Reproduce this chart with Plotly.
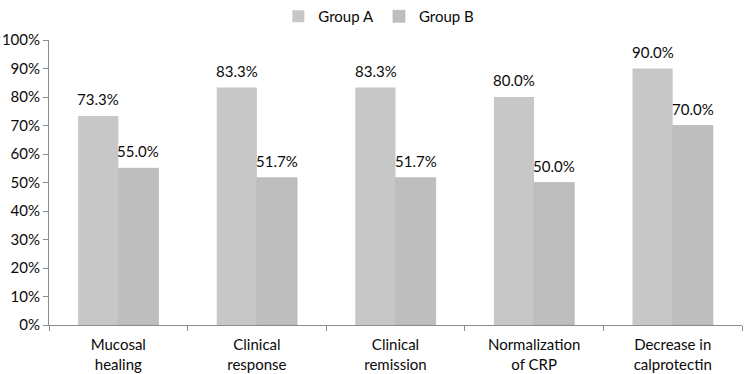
import plotly.graph_objects as go

categories = ["Mucosal<br>healing", "Clinical<br>response", "Clinical<br>remission",
              "Normalization<br>of CRP", "Decrease in<br>calprotectin"]
group_a = [0.733, 0.833, 0.833, 0.800, 0.900]
group_b = [0.550, 0.517, 0.517, 0.500, 0.700]

font = dict(family="Lato, Open Sans, sans-serif", size=15, color="#0a0a0a")

fig = go.Figure()
fig.add_trace(go.Bar(name="Group A", x=categories, y=group_a,
                     marker=dict(color="#c7c7c7", line=dict(width=0))))
fig.add_trace(go.Bar(name="Group B", x=categories, y=group_b,
                     marker=dict(color="#bebebe", line=dict(color="#b0b0b0", width=0.6))))

for vals, shift in ((group_a, -20), (group_b, 20)):
    for c, v in zip(categories, vals):
        fig.add_annotation(x=c, y=v, text=f"{v*100:.1f}%", showarrow=False,
                           xshift=shift, yshift=17, font=font)

fig.update_layout(
    width=744, height=374,
    margin=dict(l=49, r=2, t=40, b=49, autoexpand=False),
    paper_bgcolor="white", plot_bgcolor="white",
    barmode="group", bargap=0.42, bargroupgap=0,
    font=font,
    showlegend=True,
    legend=dict(orientation="h", x=0.476, xanchor="center", y=1.0, yanchor="top",
                yref="container", font=font, itemwidth=30, traceorder="normal",
                tracegroupgap=0),
)
fig.update_xaxes(showline=True, linecolor="#8c8c8c", linewidth=1,
                 ticks="outside", tickson="boundaries", ticklen=5, tickcolor="#8c8c8c",
                 showgrid=False, tickfont=font, ticklabelstandoff=6)
fig.update_yaxes(range=[0, 1], dtick=0.1, tickformat=".0%", showline=True,
                 linecolor="#8c8c8c", linewidth=1, ticks="outside", ticklen=5,
                 tickcolor="#8c8c8c", showgrid=False, zeroline=False, tickfont=font)

fig.write_html("out.html")
